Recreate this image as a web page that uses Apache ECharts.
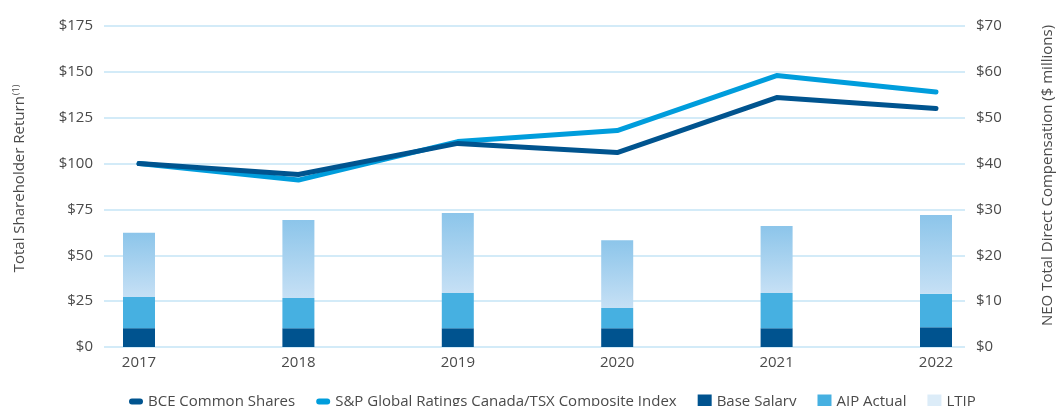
<!DOCTYPE html>
<html>
<head>
<meta charset="utf-8">
<script src="https://cdn.jsdelivr.net/npm/echarts@6/dist/echarts.min.js"></script>
<style>
  html, body { margin: 0; padding: 0; background: #ffffff; }
  #chart { width: 1063px; height: 406px; }
</style>
</head>
<body>
<div id="chart"></div>
<script>
// Years shown along the bottom
const years = ['2017', '2018', '2019', '2020', '2021', '2022'];

// Total shareholder return (value of $100 invested), left axis
const bceShares = [100, 94, 111, 106, 136, 130];
const spTsxIndex = [100, 91, 112, 118, 148, 139];

// NEO total direct compensation components ($ millions), right axis
const baseSalary = [4.1, 4.1, 4.1, 4.1, 4.1, 4.3];
const aipActual = [6.8, 6.6, 7.7, 4.4, 7.7, 7.3];
const ltip = [14.0, 17.0, 17.4, 14.8, 14.6, 17.2];

// Axis ranges and tick steps
const tsrMin = 0, tsrMax = 175, tsrStep = 25;
const compMin = 0, compMax = 70, compStep = 10;

const FONT = '"Open Sans", Lato, sans-serif';
const TEXT = '#4a4a4a';
const GRID = '#d3ebf8';
const FS = 15;

const linePath = 'path://M2.5,0 H9.5 A2.5,2.5 0 0 1 9.5,5 H2.5 A2.5,2.5 0 0 1 2.5,0 Z';

const chart = echarts.init(document.getElementById('chart'), null, { renderer: 'canvas' });

chart.setOption({
  animation: false,
  backgroundColor: '#ffffff',
  textStyle: { fontFamily: FONT },
  // grid 0 carries the gridlines and the two value scales;
  // grid 1 holds the marks, inset so the first and last years sit inside the gridlines
  grid: [
    { left: 104, right: 89, top: 26, bottom: 59 },
    { left: 139, right: 127, top: 26, bottom: 59 }
  ],
  legend: {
    left: 124,
    top: 389,
    itemWidth: 14,
    itemHeight: 14,
    itemGap: 21,
    textStyle: { color: TEXT, fontSize: FS, fontFamily: FONT },
    data: [
      { name: 'BCE Common Shares', icon: linePath },
      { name: 'S&P Global Ratings Canada/TSX Composite Index', icon: linePath },
      { name: 'Base Salary', icon: 'rect' },
      { name: 'AIP Actual', icon: 'rect' },
      { name: 'LTIP', icon: 'rect', itemStyle: { color: '#dcecf8' } }
    ]
  },
  xAxis: [
    { type: 'value', gridIndex: 0, show: false, min: 0, max: 1 },
    {
      type: 'category',
      gridIndex: 1,
      data: years,
      boundaryGap: false,
      axisLine: { show: false },
      axisTick: { show: false },
      splitLine: { show: false },
      axisLabel: { color: TEXT, fontSize: FS, margin: 8, fontFamily: FONT }
    }
  ],
  yAxis: [
    {
      type: 'value',
      gridIndex: 0,
      min: tsrMin, max: tsrMax, interval: tsrStep,
      position: 'left',
      name: '{m|Total Shareholder Return}{s|(1)}',
      nameLocation: 'middle',
      nameRotate: 90,
      nameGap: 77,
      nameTextStyle: {
        padding: [0, 0, 0, 16],
        rich: {
          m: { color: TEXT, fontSize: FS, fontFamily: FONT },
          s: { color: TEXT, fontSize: 9, fontFamily: FONT, verticalAlign: 'top', padding: [0, 0, 6, 1] }
        }
      },
      axisLine: { show: false },
      axisTick: { show: false },
      axisLabel: { formatter: v => '$' + v, color: TEXT, fontSize: FS, margin: 11, fontFamily: FONT },
      splitLine: { show: true, lineStyle: { color: GRID, width: 2 } }
    },
    {
      type: 'value',
      gridIndex: 0,
      min: compMin, max: compMax, interval: compStep,
      position: 'right',
      name: 'NEO Total Direct Compensation ($ millions)',
      nameLocation: 'middle',
      nameRotate: 90,
      nameGap: 75,
      nameTextStyle: { color: TEXT, fontSize: FS, fontFamily: FONT, padding: [0, 0, 0, 22] },
      axisLine: { show: false },
      axisTick: { show: false },
      axisLabel: { formatter: v => '$' + v, color: TEXT, fontSize: FS, margin: 11, fontFamily: FONT },
      splitLine: { show: false }
    },
    { type: 'value', gridIndex: 1, min: tsrMin, max: tsrMax, show: false, splitLine: { show: false } },
    { type: 'value', gridIndex: 1, min: compMin, max: compMax, show: false, splitLine: { show: false } }
  ],
  series: [
    {
      name: 'Base Salary',
      type: 'bar',
      xAxisIndex: 1, yAxisIndex: 3,
      stack: 'comp',
      barWidth: 32,
      clip: false,
      itemStyle: { color: '#00538f' },
      data: baseSalary,
      z: 2
    },
    {
      name: 'AIP Actual',
      type: 'bar',
      xAxisIndex: 1, yAxisIndex: 3,
      stack: 'comp',
      barWidth: 32,
      clip: false,
      itemStyle: { color: '#46b0e1' },
      data: aipActual,
      z: 2
    },
    {
      name: 'LTIP',
      type: 'bar',
      xAxisIndex: 1, yAxisIndex: 3,
      stack: 'comp',
      barWidth: 32,
      clip: false,
      itemStyle: {
        color: new echarts.graphic.LinearGradient(0, 0, 0, 1, [
          { offset: 0, color: '#8cc5ea' },
          { offset: 1, color: '#c6e0f5' }
        ])
      },
      data: ltip,
      z: 2
    },
    {
      name: 'S&P Global Ratings Canada/TSX Composite Index',
      type: 'line',
      xAxisIndex: 1, yAxisIndex: 2,
      data: spTsxIndex,
      clip: false,
      showSymbol: false,
      symbol: 'none',
      lineStyle: { color: '#009ddc', width: 5, cap: 'round', join: 'round' },
      itemStyle: { color: '#009ddc' },
      z: 3
    },
    {
      name: 'BCE Common Shares',
      type: 'line',
      xAxisIndex: 1, yAxisIndex: 2,
      data: bceShares,
      clip: false,
      showSymbol: false,
      symbol: 'none',
      lineStyle: { color: '#00548f', width: 5, cap: 'round', join: 'round' },
      itemStyle: { color: '#00548f' },
      z: 4
    }
  ]
});
</script>
</body>
</html>
